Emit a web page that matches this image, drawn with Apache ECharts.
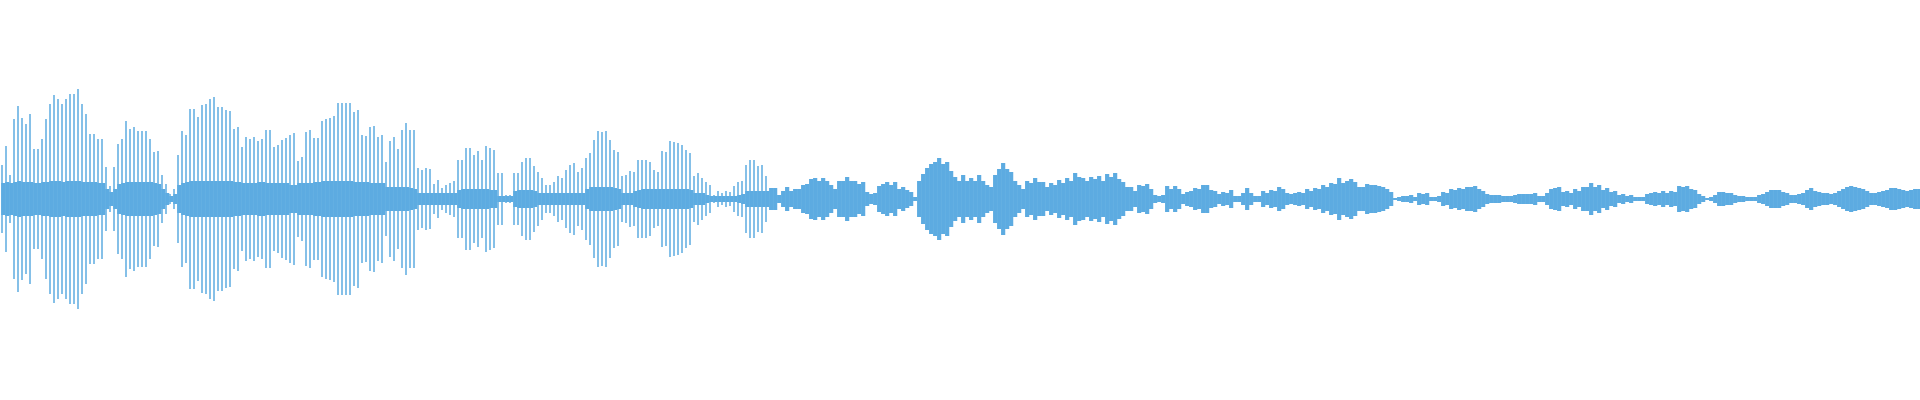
<!DOCTYPE html>
<html>
<head>
<meta charset="utf-8">
<script src="https://cdn.jsdelivr.net/npm/echarts@6/dist/echarts.min.js"></script>
<style>html,body{margin:0;padding:0;background:#fff;}#c{width:1920px;height:400px;}</style>
</head>
<body>
<div id="c"></div>
<script>
// waveform peak amplitude per slice
const part1 = [34,53,24,80,93,81,75,85,50,50,60,80,95,104,100,95,100,105,105,110,
  95,85,65,65,60,60,32,13,32,55,60,78,70,72,68,68,68,60,47,48,
  24,15,5,10,44,68,64,90,90,82,94,95,100,102,92,92,89,88,70,72,
  52,62,60,62,58,60,69,69,52,54,59,61,64,66,38,42,67,69,61,61,
  78,80,81,83,96,96,96,96,87,89,64,63,72,73,62,64];
const part2 = [37,58,62,50,69,76,69,69,31,29,31,30,15,19,11,14,16,18,
  39,39,51,51,44,48,39,53,51,49,26,26,4,4,26,26,37,41,41,33,27,21,
  14,14,17,23,21,29,34,36,27,31,41,46,59,68,67,68,59,49,47,23,
  24,28,27,39,39,39,37,29,27,48,47,58,57,56,54,49,46,23,26,21,
  17,14,4,8,6,8,7,13,17,18,34,39,39,33,34,23];
const part3 = [11,11,4,8,12,8,10,10,14,15,20,21,18,21,18,14,10,18,
  18,22,18,18,15,17,7,5,6,13,15,17,14,17,10,12,9,7,2,18,
  25,31,35,37,41,35,37,28,22,18,24,18,21,18,24,18,14,12,24,30,
  36,30,27,18,14,10,18,16,21,17,17,12,16,14,19,16,21,18,26,22,
  21,18,22,20,23,18,25,22,26,20,17,12,12,8,14,13,15,10];
const part4 = [4,3,4,13,10,13,10,5,7,8,11,10,14,14,9,8,5,7,6,9,
  3,3,6,11,6,3,3,8,6,9,8,12,10,6,5,6,7,6,10,8,
  11,10,14,12,16,15,21,16,18,20,17,12,12,15,14,14,13,12,10,7,
  1,2,3,3,4,2,6,5,6,2,2,3,7,6,10,9,11,10,12,12,
  13,10,8,5,4,4,4,3,3,3,4,5,5,5,5,6];
const part5 = [3,3,6,10,11,12,7,8,6,10,8,12,12,16,12,14,9,11,7,8,
  4,5,3,4,2,2,2,5,6,7,6,8,6,8,7,13,12,13,10,9,
  5,3,1,2,4,7,7,6,6,4,3,3,2,2,2,4,5,7,9,9,
  9,7,6,4,4,5,6,9,11,8,7,6,6,5,6,8,10,12,13,12,
  11,10,8,6,6,7,8,9,11,11,10,9,8,9,10,10];

// solid central band per slice (first two parts; later the waveform is solid up to its peak)
const coreA = [16,17,16,17,18,17,17,17,16,16,17,17,18,18,18,17,18,18,18,18,17,17,17,17,16,16,
  10,7,10,
  15,16,17,17,17,17,17,17,17,16,15,
  10,6,3,5,
  14,16,17,18,18,18,18,18,18,18,18,18,18,18,17,17,
  16,16,16,16,17,17,16,16,16,16,16,16,14,14,16,16,16,16,
  17,17,18,18,18,18,18,18,18,18,17,17,17,17,16,16,16,16];
const coreB = [12,12,12,12,12,12,11,10,
  6,6,6,6,6,6,6,6,6,6,
  9,10,10,10,10,10,10,10,9,9,
  3,3,3,3,
  8,9,9,9,9,8,
  6,6,6,6,6,6,6,6,6,6,6,6,
  10,12,12,12,12,12,12,11,10,
  6,6,6,
  8,9,10,10,10,10,10,10,10,10,10,10,10,10,9,
  6,6,6,
  4,3,3,3,3,3,3,3,4,5,
  8,8,8,8,8,8];

const peak = part1.concat(part2, part3, part4, part5);
const core = coreA.concat(coreB, part3, part4, part5);
const sliceIndex = peak.map((_, i) => i);
const color = '#5dabe1';

const bar = (data, width) => ({
  type: 'bar', data: data, barWidth: width, barGap: '-100%',
  itemStyle: {color: color}, emphasis: {disabled: true}
});

const chart = echarts.init(document.getElementById('c'), null, {renderer: 'canvas'});
chart.setOption({
  animation: false,
  grid: {left: 0, right: 0, top: 0, bottom: 0},
  xAxis: {type: 'category', data: sliceIndex, show: false},
  yAxis: {type: 'value', min: -201, max: 199, show: false},
  series: [
    bar(core, '100%'),
    bar(core.map(v => -v), '100%'),
    bar(peak, 1.5),
    bar(peak.map(v => -v), 1.5)
  ]
});
</script>
</body>
</html>
